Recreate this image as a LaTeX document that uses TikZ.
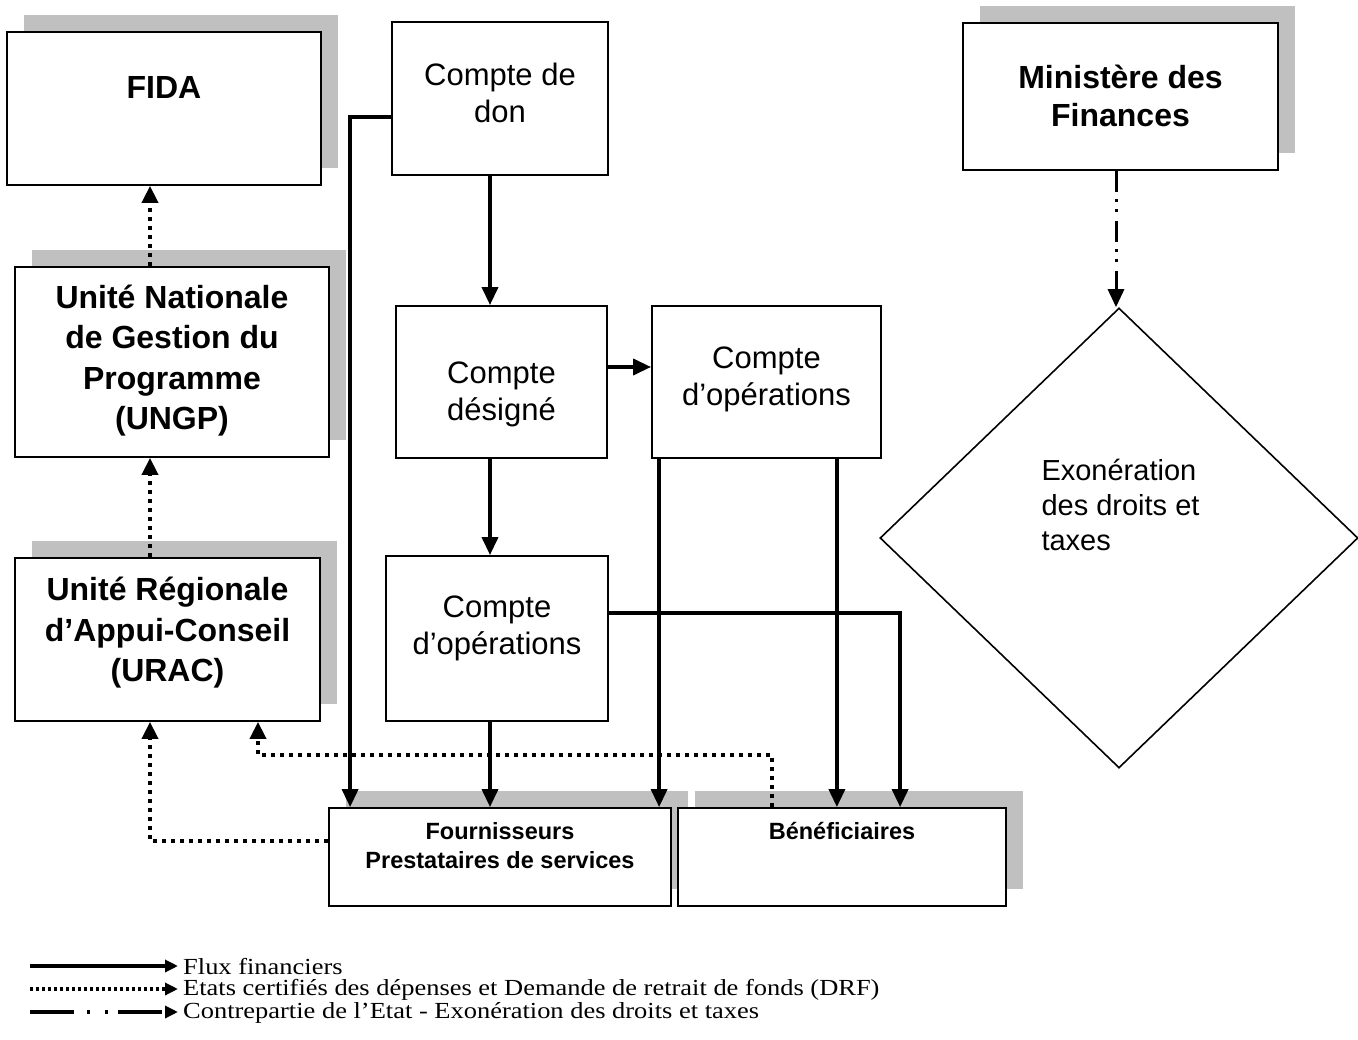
\documentclass[tikz,border=0pt]{standalone}
\usepackage{fontspec}
\setmainfont{Liberation Sans}
\newfontfamily\legfont[FakeStretch=1.15]{Liberation Serif}
\usetikzlibrary{arrows.meta,shapes.geometric,shadows}
\definecolor{shgray}{RGB}{192,192,192}
\begin{document}
\begin{tikzpicture}[x=1pt,y=-1pt,
  box/.style={draw, line width=1.8pt, fill=white, inner sep=0pt},
  shbox/.style={box, general shadow={shadow xshift=17pt, shadow yshift=17pt, fill=shgray, draw=none}},
  tnorm/.style={font=\fontsize{31}{37}\selectfont, align=center, inner sep=0pt},
  tbold/.style={font=\bfseries\fontsize{32}{40.5}\selectfont, align=center, inner sep=0pt},
  tsmall/.style={font=\bfseries\fontsize{23.5}{29}\selectfont, align=center, inner sep=0pt},
  flow/.style={line width=3.6pt, -{Triangle[width=16pt,length=18pt]}},
  doc/.style={line width=3.8pt, dash pattern=on 3.8pt off 5.2pt, -{Triangle[width=16pt,length=17pt]}},
  contre/.style={line width=3pt, dash pattern=on 21pt off 7pt on 3pt off 7pt on 3pt off 9pt, -{Triangle[width=16pt,length=18pt]}},
  legtext/.style={font=\legfont\fontsize{23}{23}\selectfont, anchor=west, inner sep=0pt},
  legtip/.style={-{Triangle[width=12pt,length=13pt]}}
]
\useasboundingbox (0,0) rectangle (1358,1040);

% boxes
\node[shbox, minimum width=314pt, minimum height=153pt,
  label={[tbold, yshift=21.5pt]center:FIDA}] (fida) at (164,108.5) {};
\node[shbox, minimum width=314pt, minimum height=190pt,
  label={[tbold, yshift=1.5pt]center:{Unité Nationale\\de Gestion du\\Programme\\(UNGP)}}] (ungp) at (172,362) {};
\node[shbox, minimum width=305pt, minimum height=163pt,
  label={[tbold, yshift=6.5pt]center:{Unité Régionale\\d’Appui-Conseil\\(URAC)}}] (urac) at (167.5,639.5) {};

\node[box, minimum width=216pt, minimum height=153pt,
  label={[tnorm, yshift=5.5pt]center:{Compte de\\don}}] (don) at (500,98.5) {};
\node[box, minimum width=211pt, minimum height=152pt,
  label={[tnorm, yshift=-12.5pt]center:{Compte\\désigné}}] (desig) at (501.5,382) {};
\node[box, minimum width=229pt, minimum height=152pt,
  label={[tnorm, yshift=2.5pt]center:{Compte\\d’opérations}}] (opr) at (766.5,382) {};
\node[box, minimum width=222pt, minimum height=165pt,
  label={[tnorm, yshift=10pt]center:{Compte\\d’opérations}}] (opl) at (497,638.5) {};

\node[shbox, minimum width=342pt, minimum height=98pt,
  label={[tsmall, yshift=11.5pt]center:{Fournisseurs\\Prestataires de services}}] (fourn) at (500,857) {};
\node[shbox, minimum width=328pt, minimum height=98pt,
  label={[tsmall, yshift=26pt]center:{Bénéficiaires}}] (benef) at (842,857) {};

\node[shbox, minimum width=315pt, minimum height=147pt,
  label={[font=\bfseries\fontsize{32}{38}\selectfont, align=center, inner sep=0pt, yshift=0.5pt]center:{Ministère des\\Finances}}] (mini) at (1120.5,96.5) {};

\node[draw, line width=1.6pt, diamond, inner sep=0pt, minimum width=478pt, minimum height=460pt,
  label={[font=\fontsize{29}{35}\selectfont, align=left, inner sep=0pt, xshift=1.5pt, yshift=33.5pt]center:{Exonération\\des droits et\\taxes}}] (diam) at (1119,538) {};

% column helpers
\coordinate (cA) at (490,0);
\coordinate (cL) at (150,0);
\coordinate (cM) at (258,755);
\coordinate (cR) at (1116,0);

% financial flows
\draw[flow] (don.south -| cA) -- (desig.north -| cA);
\draw[flow] (desig.south -| cA) -- (opl.north -| cA);
\draw[flow] (opl.south -| cA) -- (fourn.north -| cA);
\draw[flow] ([yshift=15pt]desig.east) -- ([yshift=15pt]opr.west);
\draw[flow] ([yshift=-18.5pt]don.west) -| ([xshift=22pt]fourn.north west);
\draw[flow] ([yshift=25.5pt]opl.east) -| ([xshift=223pt]benef.north west);
\draw[flow] ([xshift=8pt]opr.south west) -- ([xshift=8pt]opr.south west |- fourn.north);
\draw[flow] ([xshift=-45pt]opr.south east) -- ([xshift=-45pt]opr.south east |- benef.north);

% certified statements
\draw[doc] (ungp.north -| cL) -- (fida.south -| cL);
\draw[doc] (urac.north -| cL) -- (ungp.south -| cL);
\draw[doc] ([yshift=16pt]fourn.west) -| (urac.south -| cL);
\draw[doc] ([xshift=95pt]benef.north west) |- (cM) -- (urac.south -| cM);

% state counterpart
\draw[contre] (mini.south -| cR) -- (diam.north -| cR);

% legend
\coordinate (l1a) at (30,966);
\coordinate (l1b) at (178,966);
\coordinate (l2a) at (30,989);
\coordinate (l2b) at (178,989);
\coordinate (l3a) at (30,1012);
\coordinate (l3b) at (178,1012);
\draw[legtip, line width=3.4pt] (l1a) -- (l1b);
\draw[legtip, line width=3.4pt, dash pattern=on 3.4pt off 2.6pt] (l2a) -- (l2b);
\draw[legtip, line width=3.4pt, dash pattern=on 44pt off 13pt on 3pt off 15pt on 3pt off 10pt] (l3a) -- (l3b);
\node[legtext] (t1) at (183,967) {Flux financiers};
\node[legtext] (t2) at (183,990) {Etats certifiés des dépenses et Demande de retrait de fonds (DRF)};
\node[legtext] (t3) at (183,1013) {Contrepartie de l’Etat - Exonération des droits et taxes};
\end{tikzpicture}
\end{document}
